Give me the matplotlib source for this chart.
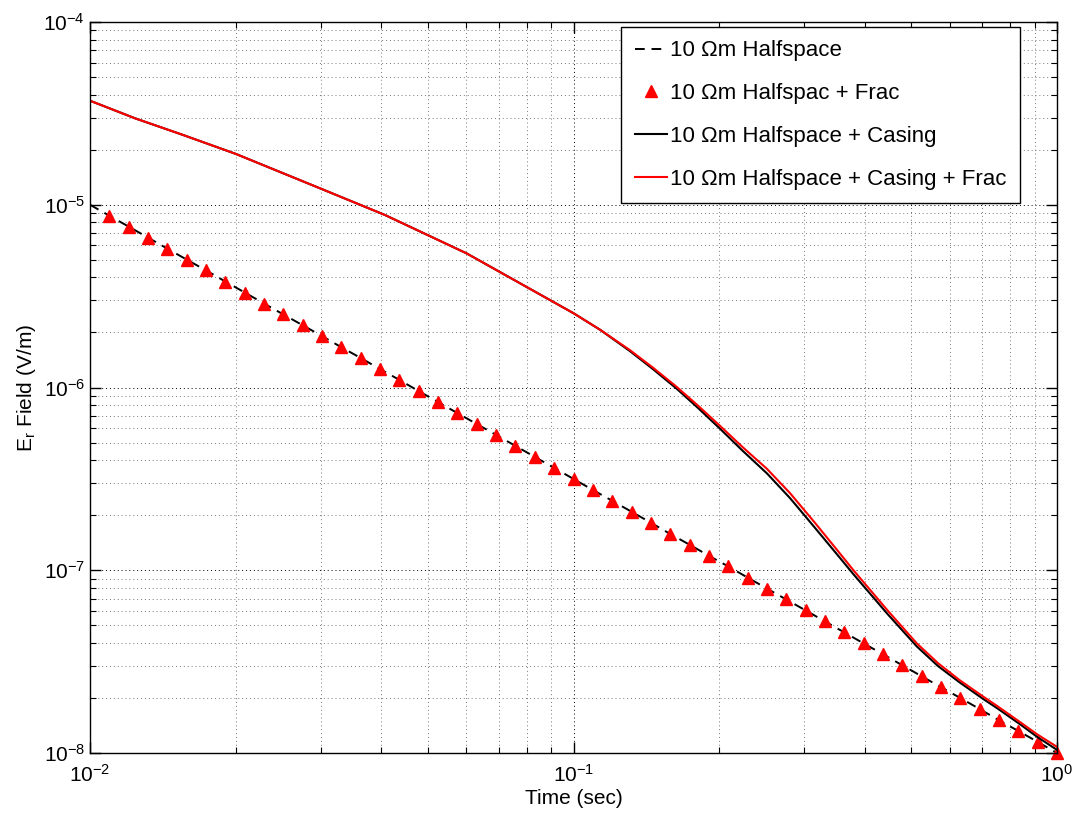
import numpy as np
import matplotlib
matplotlib.use("Agg")
import matplotlib.pyplot as plt
from matplotlib.ticker import LogLocator, NullFormatter

plt.rcParams['font.family'] = ['Liberation Sans', 'DejaVu Sans']
plt.rcParams['mathtext.fontset'] = 'custom'
plt.rcParams['mathtext.rm'] = 'Liberation Sans'
plt.rcParams['mathtext.it'] = 'Liberation Sans'
plt.rcParams['mathtext.default'] = 'regular'

# halfspace response (time in s, field in V/m)
hs_t = [0.01, 0.010965, 0.012023, 0.013183, 0.014454, 0.015849, 0.017378, 0.019055,
        0.020893, 0.022909, 0.025119, 0.027542, 0.030200, 0.033113, 0.036308,
        0.039811, 0.043652, 0.047863, 0.052481, 0.057544, 0.063096, 0.069183,
        0.075858, 0.083176, 0.091201, 0.1, 0.10965, 0.12023, 0.13183, 0.14454,
        0.15849, 0.17378, 0.19055, 0.20893, 0.22909, 0.25119, 0.27542, 0.30200,
        0.33113, 0.36308, 0.39811, 0.43652, 0.47863, 0.52481, 0.57544, 0.63096,
        0.69183, 0.75858, 0.83176, 0.91201, 1.0]
hs_v = [1.0e-5, 8.71e-6, 7.59e-6, 6.61e-6, 5.75e-6, 5.01e-6, 4.37e-6, 3.80e-6,
        3.31e-6, 2.88e-6, 2.51e-6, 2.19e-6, 1.91e-6, 1.66e-6, 1.45e-6,
        1.26e-6, 1.10e-6, 9.55e-7, 8.32e-7, 7.24e-7, 6.31e-7, 5.50e-7,
        4.79e-7, 4.17e-7, 3.63e-7, 3.16e-7, 2.75e-7, 2.40e-7, 2.09e-7, 1.82e-7,
        1.58e-7, 1.38e-7, 1.20e-7, 1.05e-7, 9.12e-8, 7.94e-8, 6.92e-8, 6.03e-8,
        5.25e-8, 4.57e-8, 3.98e-8, 3.47e-8, 3.02e-8, 2.63e-8, 2.29e-8, 2.00e-8,
        1.74e-8, 1.51e-8, 1.32e-8, 1.15e-8, 1.00e-8]

# halfspace + frac (sampled, same as halfspace)
frac_t = hs_t[1:]
frac_v = hs_v[1:]

# halfspace + casing + frac
cf_t = [0.01, 0.0124, 0.0155, 0.02, 0.0299, 0.0407, 0.0601, 0.0894, 0.1, 0.1135,
        0.1309, 0.1462, 0.1633, 0.1811, 0.2009, 0.2239, 0.2512, 0.2805, 0.3162,
        0.3548, 0.3793, 0.4457, 0.5129, 0.5675, 0.6281, 0.7047, 0.7516, 0.8375,
        0.912, 1.0]
cf_v = [3.71e-5, 2.97e-5, 2.42e-5, 1.90e-5, 1.23e-5, 8.8e-6, 5.42e-6, 3.01e-6,
        2.55e-6, 2.07e-6, 1.60e-6, 1.28e-6, 1.01e-6, 7.94e-7, 6.17e-7, 4.71e-7,
        3.59e-7, 2.64e-7, 1.81e-7, 1.245e-7, 1.0e-7, 6.05e-8, 3.98e-8, 3.10e-8,
        2.51e-8, 2.03e-8, 1.81e-8, 1.48e-8, 1.26e-8, 1.08e-8]

# halfspace + casing
cas_t = cf_t
cas_v = [3.71e-5, 2.97e-5, 2.42e-5, 1.90e-5, 1.23e-5, 8.8e-6, 5.42e-6, 3.01e-6,
         2.55e-6, 2.07e-6, 1.58e-6, 1.257e-6, 9.87e-7, 7.71e-7, 5.95e-7, 4.50e-7,
         3.39e-7, 2.48e-7, 1.70e-7, 1.178e-7, 9.51e-8, 5.78e-8, 3.83e-8, 2.99e-8,
         2.44e-8, 1.97e-8, 1.76e-8, 1.44e-8, 1.22e-8, 1.04e-8]

labels = ['10 \u03a9m Halfspace', '10 \u03a9m Halfspac + Frac',
          '10 \u03a9m Halfspace + Casing', '10 \u03a9m Halfspace + Casing + Frac']

fig = plt.figure(figsize=(10.76, 8.23), dpi=100)
ax = fig.add_axes([90/1076, 1-753/823, 967/1076, 731/823])

ax.loglog(hs_t, hs_v, color='black', linestyle=(0, (5, 3.5)), linewidth=1.4,
          label=labels[0])
ax.loglog(frac_t, frac_v, linestyle='none', marker='^', markersize=9,
          color='red', markeredgecolor='red', label=labels[1], clip_on=False)
ax.loglog(cas_t, cas_v, color='black', linewidth=1.5, label=labels[2])
ax.loglog(cf_t, cf_v, color='red', linewidth=1.5, label=labels[3])

ax.set_xlim(1e-2, 1)
ax.set_ylim(1e-8, 1e-4)

ax.xaxis.set_major_locator(LogLocator(base=10, numticks=10))
ax.yaxis.set_major_locator(LogLocator(base=10, numticks=10))
ax.xaxis.set_minor_locator(LogLocator(base=10, subs=np.arange(2, 10), numticks=20))
ax.yaxis.set_minor_locator(LogLocator(base=10, subs=np.arange(2, 10), numticks=20))
ax.xaxis.set_minor_formatter(NullFormatter())
ax.yaxis.set_minor_formatter(NullFormatter())

ax.tick_params(which='both', direction='in', top=True, right=True, labelsize=15)
ax.tick_params(which='major', length=8, width=1)
ax.tick_params(which='minor', length=4, width=0.8)
ax.tick_params(axis='x', pad=8)

ax.grid(which='major', color='black', linestyle=(0, (1, 3)), linewidth=0.7)
ax.grid(which='minor', color='#777777', linestyle=(0, (1, 3)), linewidth=0.7)
for s in ax.spines.values():
    s.set_linewidth(1)

ax.set_xlabel('Time (sec)', fontsize=15, labelpad=2)
ax.set_ylabel('E$_r$ Field (V/m)', fontsize=15, labelpad=4)

leg = ax.legend(loc='upper right', bbox_to_anchor=(1020/1076, 1-27/823),
                bbox_transform=fig.transFigure, borderaxespad=0,
                fancybox=False, framealpha=1, edgecolor='black', fontsize=16,
                handlelength=1.45, handletextpad=0.15, labelspacing=0.98,
                borderpad=0.6)
leg.get_frame().set_linewidth(1)

fig.savefig('out.png', dpi=100)
